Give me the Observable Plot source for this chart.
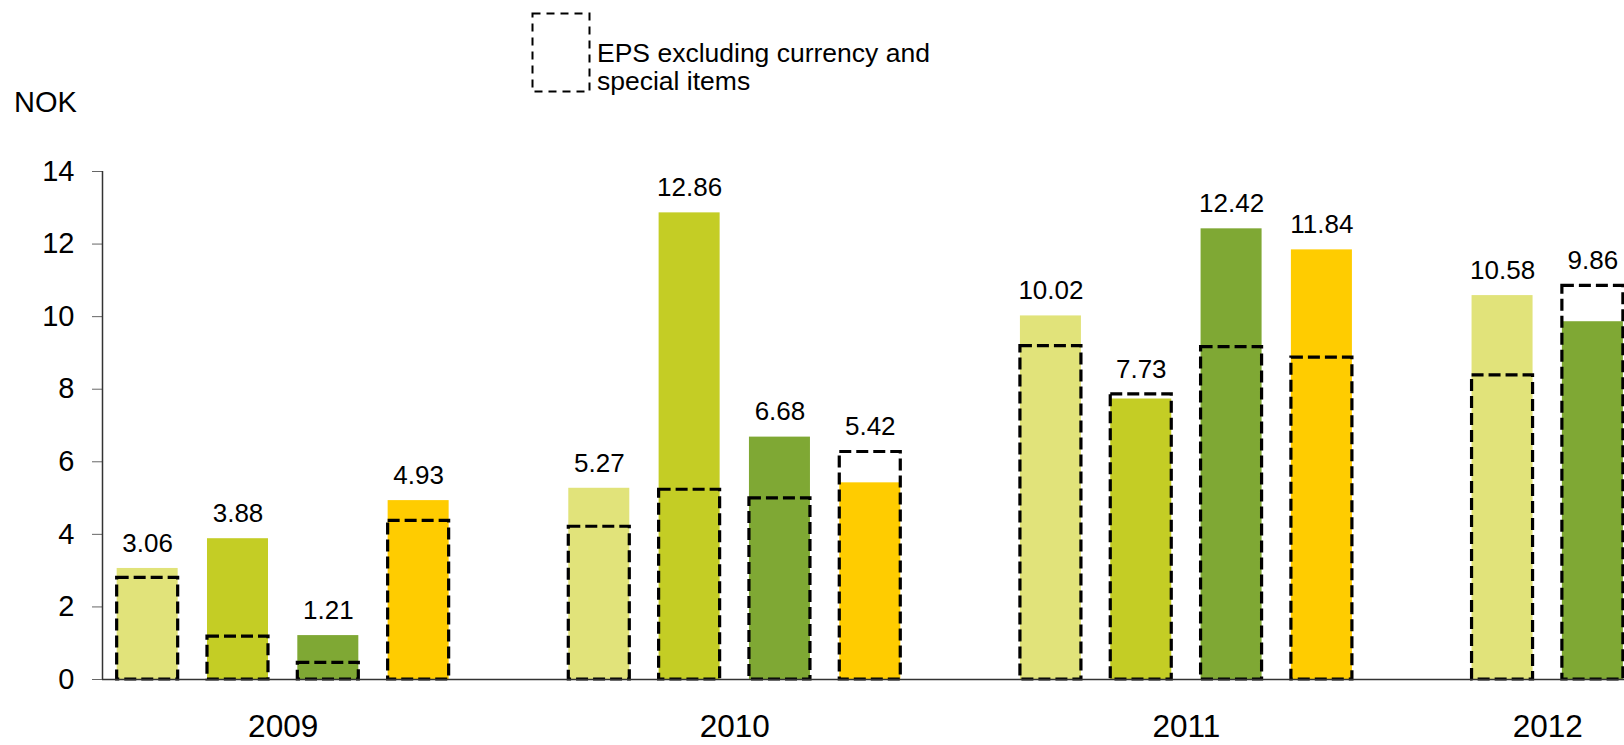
<!DOCTYPE html>
<html>
<head>
<meta charset="utf-8">
<script src="https://cdn.jsdelivr.net/npm/d3@7"></script>
<script src="https://cdn.jsdelivr.net/npm/@observablehq/plot@0.6"></script>
<style>
  html, body { margin: 0; padding: 0; background: #fff; overflow: hidden; }
  #wrap { position: relative; width: 1624px; height: 745px; font-family: "Liberation Sans", Arial, sans-serif; color: #000; }
  #unit { position: absolute; left: 14px; top: 88px; font-size: 29px; line-height: 29px; }
  #legend-box { position: absolute; left: 531px; top: 12px; }
  #legend-text { position: absolute; left: 597px; top: 39px; font-size: 26.5px; line-height: 28px; width: 420px; }
  #chart { position: absolute; left: 0; top: 0; }
</style>
</head>
<body>
<div id="wrap">
  <div id="chart"></div>
  <div id="unit"></div>
  <svg id="legend-box" width="61" height="82"><rect x="1.5" y="1.5" width="57" height="78" fill="none" stroke="#000" stroke-width="2" stroke-dasharray="8,6"></rect></svg>
  <div id="legend-text"></div>
</div>
<script>
// ---- data ----
const years = ["2009", "2010", "2011", "2012"];
const periods = ["Q1 2009","Q2 2009","Q3 2009","Q4 2009",
                 "Q1 2010","Q2 2010","Q3 2010","Q4 2010",
                 "Q1 2011","Q2 2011","Q3 2011","Q4 2011",
                 "Q1 2012","Q2 2012"];
const epsReported = [3.06, 3.88, 1.21, 4.93,
                     5.27, 12.86, 6.68, 5.42,
                     10.02, 7.73, 12.42, 11.84,
                     10.58, 9.86];
const epsExcluding = [2.80, 1.18, 0.46, 4.37,
                      4.21, 5.23, 4.99, 6.27,
                      9.19, 7.86, 9.16, 8.87,
                      8.38, 10.85];
// colour series as drawn in the original (2012's second bar uses the Q3 shade)
const colourSeries = ["Q1","Q2","Q3","Q4","Q1","Q2","Q3","Q4","Q1","Q2","Q3","Q4","Q1","Q3"];
const quarters = ["Q1","Q2","Q3","Q4"];
const yTicks = [0, 2, 4, 6, 8, 10, 12, 14];
const unitLabel = "NOK";
const legendLines = ["EPS excluding currency and", "special items"];

// ---- layout helpers ----
const slotsPerYear = 5;
const halfBar = 0.3377;
const rows = periods.map((p, i) => {
  const [q, y] = p.split(" ");
  const slot = years.indexOf(y) * slotsPerYear + quarters.indexOf(q);
  return {period: p, year: y, slot, eps: epsReported[i], excl: epsExcluding[i], series: colourSeries[i]};
});
const yearRows = years.map(y => {
  const s = rows.filter(r => r.year === y).map(r => r.slot);
  return {year: y, center: d3.mean(s)};
});
const xDomain = [-0.5, 16.35];

document.getElementById("unit").textContent = unitLabel;
document.getElementById("legend-text").innerHTML = legendLines.join("<br>");

const chart = Plot.plot({
  width: 1624,
  height: 745,
  marginLeft: 102,
  marginRight: 0,
  marginTop: 171,
  marginBottom: 66,
  style: {fontFamily: '"Liberation Sans", Arial, sans-serif', background: "transparent", color: "#000"},
  x: {domain: xDomain, axis: null},
  y: {domain: [0, 14]},
  color: {domain: quarters, range: ["#E1E37A", "#C4CD25", "#7FA834", "#FFCC00"]},
  marks: [
    Plot.rect(rows, {x1: d => d.slot - halfBar, x2: d => d.slot + halfBar, y1: 0, y2: "eps", fill: "series"}),
    Plot.rect(rows, {x1: d => d.slot - halfBar, x2: d => d.slot + halfBar, y1: 0, y2: "excl",
      fill: "none", stroke: "#000", strokeWidth: 3.2, strokeDasharray: "12,5"}),
    Plot.text(rows, {x: "slot", y: d => Math.max(d.eps, d.excl), text: d => d.eps.toFixed(2),
      dy: -25, lineAnchor: "middle", fontSize: 26, fill: "#000"}),
    Plot.text(yearRows, {x: "center", text: "year", frameAnchor: "bottom", dy: 47, lineAnchor: "middle", fontSize: 31.5, fill: "#000"}),
    Plot.axisY({ticks: yTicks, tickSize: 10, tickPadding: 18, fontSize: 29, stroke: "#666", label: null, tickFormat: d => String(d)}),
    Plot.ruleX([xDomain[0]], {y1: 0, y2: 14, stroke: "#333", strokeWidth: 1.5}),
    Plot.ruleY([0], {stroke: "#333", strokeWidth: 1.5})
  ]
});
document.getElementById("chart").appendChild(chart);
</script>
</body>
</html>
